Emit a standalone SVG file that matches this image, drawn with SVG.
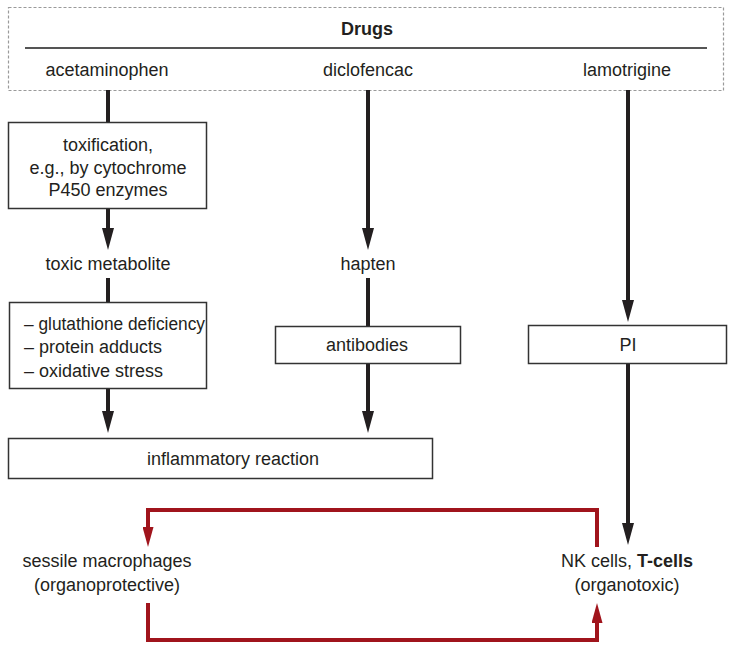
<svg xmlns="http://www.w3.org/2000/svg" width="738" height="652" viewBox="0 0 738 652">
  <style>
    text { font-family: "Liberation Sans", Arial, sans-serif; font-size: 18px; fill: #231f20; }
    .c { text-anchor: middle; }
    .b { font-weight: bold; }
    .box { fill: #fff; stroke: #333; stroke-width: 1.5; }
    .arr { fill: none; stroke: #231f20; stroke-width: 4; }
    .red { fill: none; stroke: #a0141c; stroke-width: 4; }
  </style>
  <defs>
    <marker id="ah" markerUnits="userSpaceOnUse" markerWidth="22" markerHeight="12" refX="10" refY="6" orient="auto">
      <path d="M0,0 L22,6 L0,12 z" fill="#231f20"/>
    </marker>
    <marker id="ahr" markerUnits="userSpaceOnUse" markerWidth="20" markerHeight="11" refX="10" refY="5.5" orient="auto">
      <path d="M0,0 L20,5.5 L0,11 z" fill="#a0141c"/>
    </marker>
  </defs>
  <rect width="738" height="652" fill="#fff"/>

  <g id="drugs">
    <rect x="8.5" y="7.5" width="715" height="83" fill="none" stroke="#9a9a9a" stroke-width="1.2" stroke-dasharray="3,2"/>
    <line x1="25" y1="48" x2="707" y2="48" stroke="#555" stroke-width="2"/>
    <text class="c b" x="367" y="35">Drugs</text>
    <text class="c" x="107" y="76">acetaminophen</text>
    <text class="c" x="368" y="76">diclofencac</text>
    <text class="c" x="627" y="76">lamotrigine</text>
  </g>

  <g id="connectors">
    <path class="arr" d="M108,90 V122"/>
    <path class="arr" d="M108,208 V238" marker-end="url(#ah)"/>
    <path class="arr" d="M108,278 V302"/>
    <path class="arr" d="M108,388 V421" marker-end="url(#ah)"/>
    <path class="arr" d="M368,90 V238" marker-end="url(#ah)"/>
    <path class="arr" d="M368,278 V326"/>
    <path class="arr" d="M368,363 V421" marker-end="url(#ah)"/>
    <path class="arr" d="M628,90 V310" marker-end="url(#ah)"/>
    <path class="arr" d="M628,363 V533" marker-end="url(#ah)"/>
    <path class="red" d="M597,547 V510 H148 V537" marker-end="url(#ahr)"/>
    <path class="red" d="M148,603 V640 H597 V613" marker-end="url(#ahr)"/>
  </g>

  <g id="toxification">
    <rect class="box" x="8.5" y="122.5" width="198" height="86"/>
    <text class="c" x="108" y="151">toxification,</text>
    <text class="c" x="108" y="174">e.g., by cytochrome</text>
    <text class="c" x="108" y="196">P450 enzymes</text>
  </g>

  <g id="toxic-metabolite">
    <text class="c" x="108" y="270">toxic metabolite</text>
  </g>

  <g id="mechanisms">
    <rect class="box" x="9.5" y="302.5" width="197" height="86"/>
    <text x="24" y="330" textLength="181" lengthAdjust="spacingAndGlyphs">– glutathione deficiency</text>
    <text x="24" y="353">– protein adducts</text>
    <text x="24" y="377">– oxidative stress</text>
  </g>

  <g id="inflammatory">
    <rect class="box" x="8.5" y="438.5" width="424" height="40"/>
    <text class="c" x="233" y="465">inflammatory reaction</text>
  </g>

  <g id="hapten">
    <text class="c" x="368" y="270">hapten</text>
  </g>

  <g id="antibodies">
    <rect class="box" x="275.5" y="326.5" width="185" height="37"/>
    <text class="c" x="367" y="351">antibodies</text>
  </g>

  <g id="pi">
    <rect class="box" x="528.5" y="325.5" width="198" height="38"/>
    <text class="c" x="628" y="351">PI</text>
  </g>

  <g id="macrophages">
    <text class="c" x="107" y="567">sessile macrophages</text>
    <text class="c" x="107" y="591">(organoprotective)</text>
  </g>

  <g id="nk-tcells">
    <text class="c" x="627" y="567">NK cells, <tspan class="b">T-cells</tspan></text>
    <text class="c" x="627" y="591">(organotoxic)</text>
  </g>
</svg>
